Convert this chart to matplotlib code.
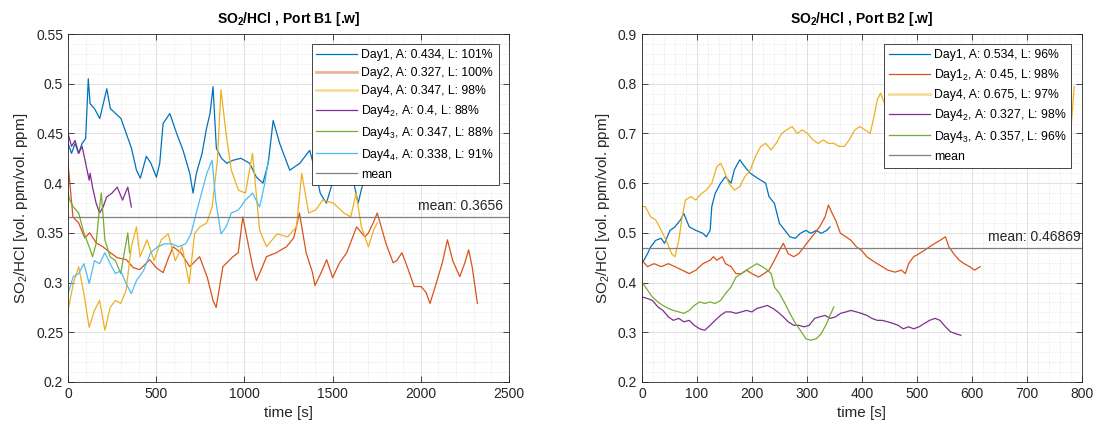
import matplotlib.pyplot as plt
from matplotlib.ticker import MultipleLocator, FuncFormatter

plt.rcParams['font.family'] = ['Liberation Sans', 'DejaVu Sans']
plt.rcParams['mathtext.default'] = 'regular'

# MATLAB default line colours
C_BLUE = '#0072BD'
C_ORANGE = '#D95319'
C_YELLOW = '#EDB120'
C_PURPLE = '#7E2F8E'
C_GREEN = '#77AC30'
C_CYAN = '#4DBEEE'
C_MEAN = '#7f7f7f'

# ---- Port B1 ----
b1_day1_t = [0, 20, 40, 60, 80, 100, 115, 125, 150, 180, 200, 220, 240, 270, 300, 330, 360, 388, 410,
             444, 470, 501, 520, 539, 577, 616, 652, 690, 709, 728, 760, 785, 805, 822, 841, 870, 900,
             935, 980, 1030, 1068, 1105, 1135, 1163, 1200, 1257, 1314, 1370, 1405, 1430, 1446, 1465,
             1490, 1530, 1580, 1620, 1645, 1665, 1700, 1760, 1830, 1900, 1970, 2030]
b1_day1_v = [0.44, 0.43, 0.44, 0.43, 0.44, 0.445, 0.505, 0.48, 0.475, 0.465, 0.48, 0.495, 0.475, 0.47,
             0.465, 0.45, 0.435, 0.413, 0.405, 0.427, 0.42, 0.406, 0.42, 0.46, 0.47, 0.45, 0.433, 0.41,
             0.39, 0.41, 0.43, 0.455, 0.47, 0.497, 0.435, 0.425, 0.42, 0.423, 0.425, 0.42, 0.406, 0.40,
             0.42, 0.463, 0.44, 0.413, 0.42, 0.433, 0.41, 0.39, 0.385, 0.38, 0.395, 0.42, 0.42, 0.40,
             0.38, 0.395, 0.415, 0.43, 0.425, 0.42, 0.415, 0.398]

b1_day2_t = [0, 28, 60, 95, 123, 160, 198, 240, 280, 331, 370, 406, 435, 463, 500, 539, 570, 596, 640,
             690, 746, 790, 822, 840, 878, 935, 965, 991, 1020, 1047, 1068, 1100, 1125, 1180, 1238, 1280,
             1312, 1350, 1386, 1400, 1435, 1466, 1500, 1540, 1580, 1636, 1683, 1703, 1730, 1753, 1803,
             1843, 1863, 1893, 1923, 1962, 2002, 2030, 2052, 2082, 2122, 2151, 2181, 2221, 2250, 2271,
             2291, 2321]
b1_day2_v = [0.42, 0.366, 0.36, 0.345, 0.35, 0.34, 0.336, 0.33, 0.325, 0.323, 0.315, 0.313, 0.318,
             0.323, 0.315, 0.31, 0.325, 0.336, 0.33, 0.316, 0.326, 0.305, 0.282, 0.275, 0.316, 0.326,
             0.33, 0.366, 0.34, 0.316, 0.302, 0.315, 0.326, 0.33, 0.336, 0.345, 0.37, 0.33, 0.31, 0.297,
             0.31, 0.323, 0.305, 0.32, 0.33, 0.356, 0.346, 0.35, 0.36, 0.37, 0.339, 0.32, 0.322, 0.33,
             0.316, 0.296, 0.296, 0.29, 0.279, 0.296, 0.32, 0.343, 0.322, 0.306, 0.32, 0.333, 0.316, 0.279]

b1_day4_t = [0, 30, 60, 90, 120, 150, 179, 209, 239, 269, 299, 329, 359, 388, 408, 448, 488, 528, 568,
             608, 647, 687, 717, 747, 787, 817, 847, 867, 896, 926, 966, 1006, 1046, 1086, 1125, 1185,
             1245, 1295, 1325, 1364, 1404, 1444, 1504, 1564, 1603, 1633, 1663, 1703, 1733, 1753]
b1_day4_v = [0.272, 0.299, 0.316, 0.289, 0.255, 0.272, 0.282, 0.252, 0.275, 0.282, 0.279, 0.292, 0.336,
             0.356, 0.326, 0.343, 0.322, 0.343, 0.349, 0.322, 0.336, 0.299, 0.349, 0.356, 0.36, 0.376,
             0.423, 0.494, 0.45, 0.413, 0.393, 0.39, 0.43, 0.353, 0.336, 0.349, 0.346, 0.356, 0.41, 0.37,
             0.373, 0.383, 0.38, 0.37, 0.366, 0.39, 0.356, 0.336, 0.353, 0.36]

b1_day4_2_t = [0, 20, 40, 60, 80, 100, 120, 125, 139, 159, 179, 199, 219, 249, 279, 309, 339, 359]
b1_day4_2_v = [0.45, 0.437, 0.443, 0.43, 0.437, 0.42, 0.403, 0.41, 0.396, 0.38, 0.37, 0.376, 0.386,
               0.39, 0.396, 0.383, 0.396, 0.376]

b1_day4_3_t = [0, 10, 30, 60, 90, 120, 139, 159, 179, 189, 209, 239, 269, 299, 319, 339, 349]
b1_day4_3_v = [0.39, 0.383, 0.376, 0.37, 0.35, 0.336, 0.326, 0.339, 0.376, 0.39, 0.343, 0.326, 0.322,
               0.309, 0.33, 0.35, 0.33]

b1_day4_4_t = [0, 30, 60, 90, 120, 150, 179, 209, 239, 269, 299, 329, 359, 388, 428, 468, 508, 548, 588,
               627, 667, 697, 727, 757, 787, 817, 837, 867, 896, 926, 966, 1006, 1046, 1086, 1116, 1135]
b1_day4_4_v = [0.289, 0.306, 0.309, 0.319, 0.299, 0.322, 0.319, 0.33, 0.319, 0.309, 0.312, 0.299, 0.289,
               0.302, 0.312, 0.33, 0.336, 0.339, 0.339, 0.336, 0.339, 0.349, 0.37, 0.39, 0.41, 0.423,
               0.383, 0.349, 0.356, 0.37, 0.373, 0.383, 0.39, 0.376, 0.40, 0.423]

b1_mean = 0.3656
b1_labels = ['Day1, A: 0.434, L: 101%', 'Day2, A: 0.327, L: 100%', 'Day4, A: 0.347, L: 98%',
             'Day4$_2$, A: 0.4, L: 88%', 'Day4$_3$, A: 0.347, L: 88%', 'Day4$_4$, A: 0.338, L: 91%']

# ---- Port B2 ----
b2_day1_t = [0, 10, 16, 25, 35, 41, 51, 60, 70, 76, 86, 98, 111, 117, 124, 127, 133, 143, 152, 162, 168,
             178, 187, 197, 206, 216, 225, 231, 241, 250, 260, 269, 279, 288, 298, 307, 317, 326, 336, 342]
b2_day1_v = [0.438, 0.458, 0.472, 0.485, 0.489, 0.479, 0.505, 0.512, 0.526, 0.539, 0.512, 0.505, 0.499,
             0.492, 0.505, 0.553, 0.579, 0.60, 0.613, 0.60, 0.627, 0.647, 0.633, 0.62, 0.613, 0.606, 0.60,
             0.573, 0.559, 0.519, 0.505, 0.492, 0.489, 0.499, 0.505, 0.499, 0.505, 0.499, 0.505, 0.512]

b2_day1_2_t = [0, 10, 22, 35, 48, 60, 73, 86, 98, 111, 124, 130, 136, 146, 152, 162, 171, 181, 190, 200,
               212, 222, 231, 241, 250, 257, 266, 276, 285, 295, 304, 314, 323, 333, 339, 346, 352, 361,
               371, 380, 390, 399, 409, 418, 428, 437, 447, 460, 472, 479, 485, 494, 504, 514, 523, 533,
               542, 552, 558, 567, 577, 586, 596, 605, 615]
b2_day1_2_v = [0.445, 0.432, 0.438, 0.432, 0.438, 0.432, 0.425, 0.418, 0.425, 0.438, 0.445, 0.452, 0.445,
               0.452, 0.438, 0.432, 0.418, 0.418, 0.425, 0.418, 0.411, 0.418, 0.425, 0.445, 0.465, 0.479,
               0.458, 0.452, 0.458, 0.472, 0.485, 0.499, 0.512, 0.532, 0.556, 0.539, 0.526, 0.499, 0.492,
               0.485, 0.472, 0.465, 0.452, 0.445, 0.438, 0.432, 0.425, 0.421, 0.425, 0.418, 0.438, 0.452,
               0.458, 0.465, 0.472, 0.479, 0.485, 0.492, 0.472, 0.458, 0.445, 0.438, 0.432, 0.425, 0.432]

b2_day4_t = [0, 6, 16, 25, 35, 44, 54, 60, 67, 73, 79, 89, 98, 108, 117, 127, 136, 143, 149, 158, 168,
             178, 187, 197, 206, 216, 225, 235, 244, 254, 263, 273, 282, 292, 301, 311, 320, 330, 339,
             349, 358, 368, 377, 387, 396, 406, 415, 422, 428, 434, 441, 470, 520, 570, 620, 670, 720,
             760, 781, 786]
b2_day4_v = [0.553, 0.553, 0.532, 0.526, 0.505, 0.485, 0.458, 0.452, 0.485, 0.532, 0.566, 0.573, 0.566,
             0.579, 0.586, 0.60, 0.633, 0.64, 0.626, 0.60, 0.586, 0.593, 0.613, 0.626, 0.653, 0.674, 0.68,
             0.667, 0.68, 0.70, 0.707, 0.714, 0.70, 0.707, 0.70, 0.687, 0.68, 0.687, 0.68, 0.68, 0.674,
             0.674, 0.687, 0.707, 0.714, 0.707, 0.70, 0.734, 0.768, 0.781, 0.761, 0.75, 0.76, 0.77, 0.76,
             0.75, 0.74, 0.73, 0.72, 0.794]

b2_day4_2_t = [0, 10, 19, 29, 38, 48, 57, 67, 76, 86, 95, 105, 114, 124, 133, 143, 152, 162, 171, 181,
               190, 200, 209, 219, 228, 238, 247, 257, 266, 276, 285, 295, 304, 314, 323, 333, 342, 352,
               361, 371, 380, 390, 399, 409, 418, 428, 437, 447, 456, 466, 475, 485, 494, 504, 514, 523,
               533, 542, 552, 561, 571, 580]
b2_day4_2_v = [0.371, 0.368, 0.364, 0.351, 0.344, 0.331, 0.324, 0.328, 0.321, 0.324, 0.314, 0.307,
               0.304, 0.314, 0.324, 0.334, 0.341, 0.341, 0.338, 0.341, 0.344, 0.341, 0.348, 0.351, 0.354,
               0.348, 0.341, 0.331, 0.321, 0.314, 0.314, 0.311, 0.314, 0.328, 0.331, 0.334, 0.328, 0.331,
               0.338, 0.341, 0.344, 0.341, 0.338, 0.334, 0.328, 0.324, 0.324, 0.321, 0.318, 0.314, 0.307,
               0.311, 0.307, 0.311, 0.318, 0.324, 0.328, 0.324, 0.311, 0.301, 0.297, 0.294]

b2_day4_3_t = [0, 10, 19, 29, 38, 48, 57, 67, 76, 86, 95, 105, 114, 124, 133, 143, 152, 162, 171, 181,
               190, 200, 209, 219, 228, 235, 241, 250, 260, 269, 279, 288, 298, 307, 317, 326, 336, 342, 349]
b2_day4_3_v = [0.401, 0.385, 0.371, 0.361, 0.354, 0.348, 0.344, 0.341, 0.338, 0.344, 0.354, 0.361,
               0.358, 0.361, 0.358, 0.364, 0.378, 0.391, 0.411, 0.418, 0.425, 0.432, 0.438, 0.432, 0.425,
               0.418, 0.391, 0.378, 0.358, 0.338, 0.318, 0.304, 0.287, 0.284, 0.287, 0.297, 0.318, 0.334,
               0.351]

b2_mean = 0.46869
b2_labels = ['Day1, A: 0.534, L: 96%', 'Day1$_2$, A: 0.45, L: 98%', 'Day4, A: 0.675, L: 97%',
             'Day4$_2$, A: 0.327, L: 98%', 'Day4$_3$, A: 0.357, L: 96%']

TXT = '#262626'


def style_axes(ax, xmax, ymin, ymax, xmaj, xmin_step, ymaj, ymin_step):
    ax.set_xlim(0, xmax)
    ax.set_ylim(ymin, ymax)
    ax.xaxis.set_major_locator(MultipleLocator(xmaj))
    ax.xaxis.set_minor_locator(MultipleLocator(xmin_step))
    ax.yaxis.set_major_locator(MultipleLocator(ymaj))
    ax.yaxis.set_minor_locator(MultipleLocator(ymin_step))
    ax.yaxis.set_major_formatter(FuncFormatter(lambda v, p: f'{round(v, 4):g}'))
    ax.grid(True, which='major', color='#dcdcdc', lw=0.6, ls='-')
    ax.grid(True, which='minor', color='#d4d4d4', lw=0.5, ls=(0, (1, 2)))
    ax.set_axisbelow(True)
    ax.tick_params(which='major', direction='in', length=4, width=0.6, top=True, right=True,
                   labelsize=10, colors=TXT)
    ax.tick_params(which='minor', length=0)
    for sp in ax.spines.values():
        sp.set_color(TXT)
        sp.set_linewidth(0.6)
    ax.set_xlabel('time [s]', fontsize=11, color=TXT)
    ax.set_ylabel('SO$_2$/HCl [vol. ppm/vol. ppm]', fontsize=11, color=TXT)


def add_mean(ax, m, dx):
    ax.axhline(m, color=C_MEAN, lw=0.9, label='mean')
    ax.annotate(f'mean: {m:g}', xy=(1, m), xycoords=('axes fraction', 'data'),
                xytext=(-dx, 3), textcoords='offset points', ha='right', va='bottom',
                fontsize=10, color=TXT)


def add_legend(ax, thick):
    leg = ax.legend(loc='upper right', fontsize=8.8, handlelength=3.3, labelspacing=0.48,
                    borderaxespad=0.85, fancybox=False, framealpha=1, edgecolor=TXT,
                    borderpad=0.4, handletextpad=0.35)
    leg.get_frame().set_linewidth(0.6)
    for i in thick:
        leg.get_lines()[i].set_linewidth(2.0)
        leg.get_lines()[i].set_alpha(0.45)


fig = plt.figure(figsize=(10.97, 4.28), dpi=100)
ax1 = fig.add_axes([0.0620, 0.1075, 0.402, 0.813])
ax2 = fig.add_axes([0.5852, 0.1075, 0.401, 0.813])

# left panel: Port B1
lw = 0.9
ax1.plot(b1_day1_t, b1_day1_v, color=C_BLUE, lw=lw, label=b1_labels[0])
ax1.plot(b1_day2_t, b1_day2_v, color=C_ORANGE, lw=lw, label=b1_labels[1])
ax1.plot(b1_day4_t, b1_day4_v, color=C_YELLOW, lw=lw, label=b1_labels[2])
ax1.plot(b1_day4_2_t, b1_day4_2_v, color=C_PURPLE, lw=lw, label=b1_labels[3])
ax1.plot(b1_day4_3_t, b1_day4_3_v, color=C_GREEN, lw=lw, label=b1_labels[4])
ax1.plot(b1_day4_4_t, b1_day4_4_v, color=C_CYAN, lw=lw, label=b1_labels[5])
add_mean(ax1, b1_mean, 4)
style_axes(ax1, 2500, 0.2, 0.55, 500, 100, 0.05, 0.01)
ax1.set_title('SO$_2$/HCl , Port B1 [.w]', fontsize=10, fontweight='bold', pad=8)
add_legend(ax1, [1, 2])

# right panel: Port B2
ax2.plot(b2_day1_t, b2_day1_v, color=C_BLUE, lw=lw, label=b2_labels[0])
ax2.plot(b2_day1_2_t, b2_day1_2_v, color=C_ORANGE, lw=lw, label=b2_labels[1])
ax2.plot(b2_day4_t, b2_day4_v, color=C_YELLOW, lw=lw, label=b2_labels[2])
ax2.plot(b2_day4_2_t, b2_day4_2_v, color=C_PURPLE, lw=lw, label=b2_labels[3])
ax2.plot(b2_day4_3_t, b2_day4_3_v, color=C_GREEN, lw=lw, label=b2_labels[4])
add_mean(ax2, b2_mean, 1)
style_axes(ax2, 800, 0.2, 0.9, 100, 20, 0.1, 0.02)
ax2.set_title('SO$_2$/HCl , Port B2 [.w]', fontsize=10, fontweight='bold', pad=8)
add_legend(ax2, [2])

fig.savefig('out.png', dpi=100)
